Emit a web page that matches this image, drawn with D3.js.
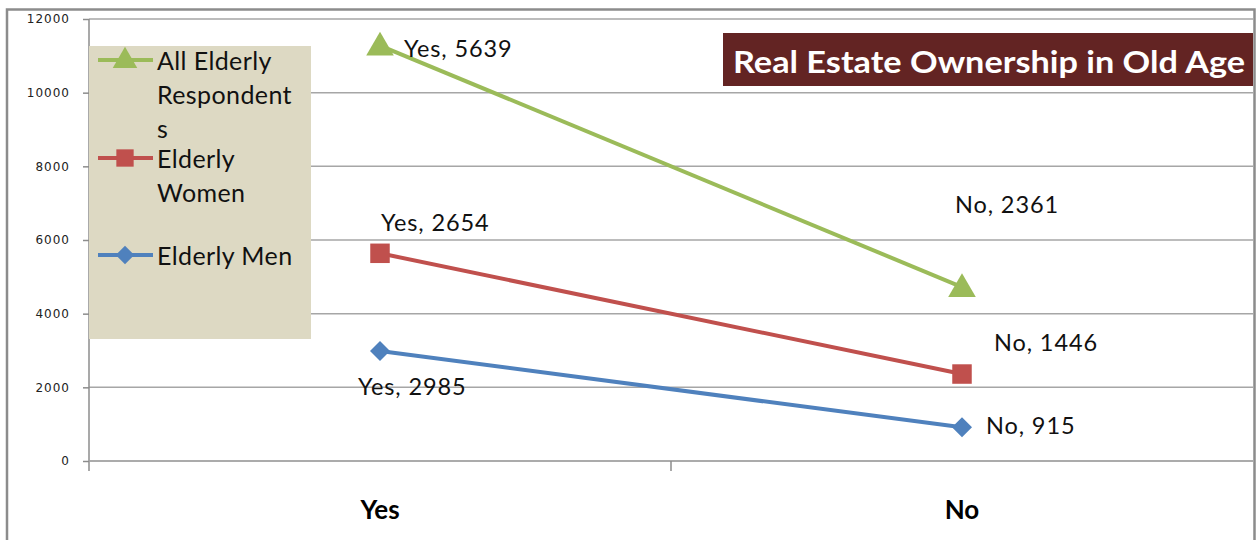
<!DOCTYPE html>
<html>
<head>
<meta charset="utf-8">
<script src="https://cdn.jsdelivr.net/npm/d3@7"></script>
<style>
  html, body { margin: 0; padding: 0; background: #fff; }
  svg { display: block; }
</style>
</head>
<body>
<svg id="chart" width="1256" height="540"></svg>
<script>
// ---- data ----
const categories = ["Yes", "No"];
const seriesNames = ["Elderly Men", "Elderly Women", "All Elderly Respondents"];
const menValues = [2985, 915];
const womenValues = [2654, 1446];
const allValues = [5639, 2361];
const yTicks = [0, 2000, 4000, 6000, 8000, 10000, 12000];
const legendLines = [
  ["All Elderly", "Respondent", "s"],
  ["Elderly", "Women"],
  ["Elderly Men"]
];

const colors = { "Elderly Men": "#4f81bd", "Elderly Women": "#c0504d", "All Elderly Respondents": "#9bbb59" };
const symbols = { "Elderly Men": d3.symbolSquare, "Elderly Women": d3.symbolSquare, "All Elderly Respondents": d3.symbolTriangle };
const rotations = { "Elderly Men": 45, "Elderly Women": 0, "All Elderly Respondents": 0 };

const rows = categories.map((c, i) => ({
  cat: c,
  "Elderly Men": menValues[i],
  "Elderly Women": womenValues[i],
  "All Elderly Respondents": allValues[i]
}));
const stacked = d3.stack().keys(seriesNames)(rows);

const svg = d3.select("#chart");
const pLeft = 89, pRight = 1253, pTop = 19, pBottom = 461;

const x = d3.scaleBand().domain(categories).range([pLeft, pRight]);
const y = d3.scaleLinear().domain([0, 12000]).range([pBottom, pTop]);

// outer frame
svg.append("path")
  .attr("d", `M7,545 V9.5 H1254.5 V545`)
  .attr("fill", "none").attr("stroke", "#8c8c8c").attr("stroke-width", 2.5);

// gridlines
svg.append("g").selectAll("line").data(yTicks).join("line")
  .attr("x1", pLeft).attr("x2", pRight)
  .attr("y1", d => y(d)).attr("y2", d => y(d))
  .attr("stroke", "#a6a6a6").attr("stroke-width", 1.5);

// y axis
const yAxis = svg.append("g").attr("transform", `translate(${pLeft},0)`)
  .call(d3.axisLeft(y).tickValues(yTicks).tickSize(6).tickPadding(13).tickFormat(d3.format("d")));
yAxis.select(".domain").remove();
yAxis.append("line").attr("x1", 0).attr("x2", 0).attr("y1", pTop).attr("y2", pBottom + 10)
  .attr("stroke", "#8c8c8c").attr("stroke-width", 1.5);
yAxis.selectAll(".tick line").attr("stroke", "#8c8c8c").attr("stroke-width", 1.5);
yAxis.selectAll(".tick text")
  .attr("font-family", "DejaVu Sans").attr("font-size", 12).attr("letter-spacing", 1)
  .attr("fill", "#222");

// x axis
const xAxis = svg.append("g").attr("transform", `translate(0,${pBottom})`)
  .call(d3.axisBottom(x).tickSize(0).tickPadding(40));
xAxis.select(".domain").remove();
xAxis.append("line").attr("x1", pLeft).attr("x2", pRight).attr("y1", 0).attr("y2", 0)
  .attr("stroke", "#a6a6a6").attr("stroke-width", 1.5);
xAxis.selectAll(".tick text")
  .attr("font-family", "Lato").attr("font-weight", "bold").attr("font-size", 26).attr("fill", "#000");
// category separator tick
xAxis.append("g").selectAll("line").data(categories.slice(1)).join("line")
  .attr("x1", d => x(d)).attr("x2", d => x(d)).attr("y1", 0).attr("y2", 10)
  .attr("stroke", "#8c8c8c").attr("stroke-width", 1.5);

// legend
const lg = svg.append("g");
lg.append("rect").attr("x", 89).attr("y", 46).attr("width", 222).attr("height", 293).attr("fill", "#ddd9c3");
const legendOrder = ["All Elderly Respondents", "Elderly Women", "Elderly Men"];
const legendY = [60, 158, 255];
legendOrder.forEach((name, i) => {
  const g = lg.append("g").attr("transform", `translate(0,${legendY[i]})`);
  g.append("line").attr("x1", 98).attr("x2", 153).attr("y1", 0).attr("y2", 0)
    .attr("stroke", colors[name]).attr("stroke-width", 4);
  const sz = name === "Elderly Women" ? 300 : (name === "Elderly Men" ? 170 : 260);
  g.append("path").attr("d", d3.symbol().type(symbols[name]).size(sz))
    .attr("transform", `translate(125,${name === "All Elderly Respondents" ? 1 : 0}) rotate(${rotations[name]})`)
    .attr("fill", colors[name]);
  const t = g.append("text").attr("x", 157).attr("y", 0)
    .attr("font-family", "Lato").attr("font-size", 25).attr("letter-spacing", 0.4).attr("fill", "#111")
    .attr("dominant-baseline", "central");
  legendLines[i].forEach((ln, j) => {
    t.append("tspan").attr("x", 157).attr("dy", j === 0 ? 0 : 34).text(ln);
  });
});

// lines
const line = d3.line().x(d => x(d.data.cat) + x.bandwidth() / 2).y(d => y(d[1]));
stacked.forEach(s => {
  svg.append("path").datum(s).attr("d", line)
    .attr("fill", "none").attr("stroke", colors[s.key]).attr("stroke-width", 4);
  const sz = s.key === "Elderly Women" ? 380 : (s.key === "Elderly Men" ? 200 : 330);
  svg.append("g").selectAll("path").data(s).join("path")
    .attr("d", d3.symbol().type(symbols[s.key]).size(sz))
    .attr("transform", d => `translate(${x(d.data.cat) + x.bandwidth() / 2},${y(d[1]) + (s.key === "All Elderly Respondents" ? 2 : 0)}) rotate(${rotations[s.key]})`)
    .attr("fill", colors[s.key]);
});

// data labels (offsets relative to each point)
const labelOffsets = {
  "All Elderly Respondents": [[24, 2, "start"], [-7, -83, "start"]],
  "Elderly Women": [[1, -31, "start"], [32, -32, "start"]],
  "Elderly Men": [[-22, 35, "start"], [24, -2, "start"]]
};
stacked.forEach(s => {
  svg.append("g").selectAll("text").data(s).join("text")
    .attr("x", (d, i) => x(d.data.cat) + x.bandwidth() / 2 + labelOffsets[s.key][i][0])
    .attr("y", (d, i) => y(d[1]) + labelOffsets[s.key][i][1])
    .attr("text-anchor", (d, i) => labelOffsets[s.key][i][2])
    .attr("dominant-baseline", "central")
    .attr("font-family", "Lato").attr("font-size", 23.5).attr("letter-spacing", 0.9).attr("fill", "#111")
    .text(d => `${d.data.cat}, ${d.data[s.key]}`);
});

// title box
const tg = svg.append("g");
tg.append("rect").attr("x", 723).attr("y", 33).attr("width", 530).attr("height", 53).attr("fill", "#632423");
tg.append("text").attr("x", 733).attr("y", 61).attr("dominant-baseline", "central")
  .attr("font-family", "Lato").attr("font-weight", "bold").attr("font-size", 30).attr("fill", "#fff")
  .attr("textLength", 512).attr("lengthAdjust", "spacingAndGlyphs")
  .text("Real Estate Ownership in Old Age");
</script>
</body>
</html>
